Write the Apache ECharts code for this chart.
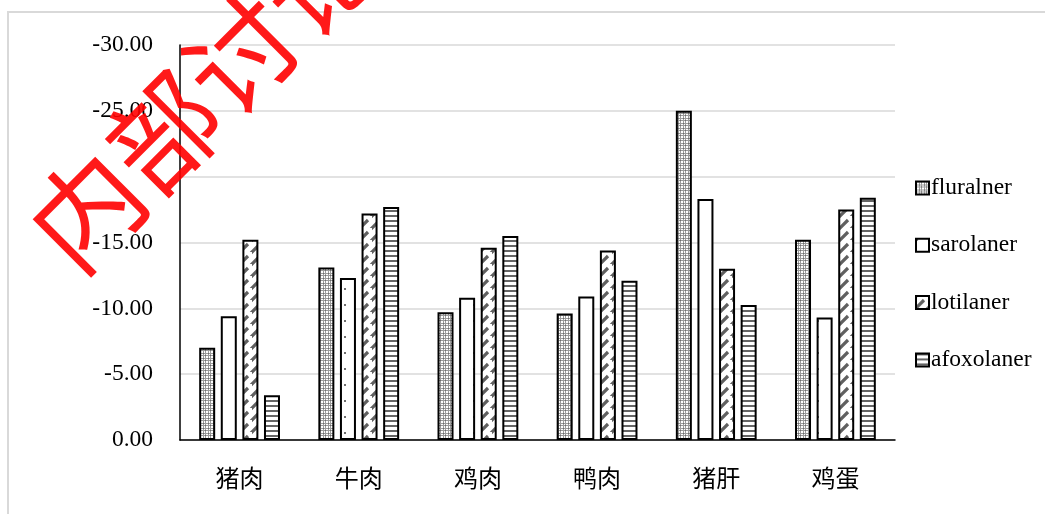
<!DOCTYPE html>
<html>
<head>
<meta charset="utf-8">
<script src="https://cdn.jsdelivr.net/npm/echarts@6/dist/echarts.min.js"></script>
<style>
  html, body { margin: 0; padding: 0; background: #fff; }
  #chart { width: 1045px; height: 514px; }
</style>
</head>
<body>
<div id="chart"></div>
<script>
// Foods tested and the four isoxazolines
const categories = ['猪肉', '牛肉', '鸡肉', '鸭肉', '猪肝', '鸡蛋'];
const seriesNames = ['fluralner', 'sarolaner', 'lotilaner', 'afoxolaner'];

const fluralner  = [-7.0, -13.1, -9.7, -9.6, -25.0, -15.2];
const sarolaner  = [-9.4, -12.3, -10.8, -10.9, -18.3, -9.3];
const lotilaner  = [-15.2, -17.2, -14.6, -14.4, -13.0, -17.5];
const afoxolaner = [-3.4, -17.7, -15.5, -12.1, -10.25, -18.4];

const yMin = -30, yMax = 0, yStep = 5;

// Monochrome fill patterns, one per series
function tile(w, h, draw) {
  const c = document.createElement('canvas');
  c.width = w; c.height = h;
  const g = c.getContext('2d');
  g.fillStyle = '#fff';
  g.fillRect(0, 0, w, h);
  draw(g);
  return { image: c, repeat: 'repeat' };
}

const patterns = [
  // small gray plaid
  tile(5, 5, g => {
    g.fillStyle = '#9c9c9c';
    g.fillRect(0, 0, 5, 1);
    g.fillRect(0, 3, 5, 1);
    g.fillRect(0, 0, 1, 5);
    g.fillRect(3, 0, 1, 5);
    g.fillStyle = '#6e6e6e';
    g.fillRect(0, 0, 1, 1);
    g.fillRect(3, 3, 1, 1);
  }),
  // sparse dots
  tile(43, 16, g => {
    g.fillStyle = '#6e6e6e';
    g.fillRect(0, 0, 2, 2);
  }),
  // dashed upward diagonal
  tile(12, 12, g => {
    g.strokeStyle = '#606060';
    g.lineWidth = 3.2;
    g.beginPath();
    g.moveTo(0, 12); g.lineTo(8, 4);
    g.moveTo(6, 18); g.lineTo(14, 10);
    g.moveTo(-6, 6); g.lineTo(2, -2);
    g.stroke();
  }),
  // narrow horizontal stripes
  tile(5, 5, g => {
    g.fillStyle = '#656565';
    g.fillRect(0, 0, 5, 2);
  })
];

const values = [fluralner, sarolaner, lotilaner, afoxolaner];

const serif = '"Liberation Serif", "Times New Roman", serif';

const chart = echarts.init(document.getElementById('chart'), null, { renderer: 'canvas' });

chart.setOption({
  animation: false,
  backgroundColor: '#fff',
  grid: { left: 180, right: 150, top: 45, bottom: 74, containLabel: false },
  legend: {
    orient: 'vertical',
    left: 910,
    top: 171,
    itemWidth: 13,
    itemHeight: 13,
    itemGap: 33.3,
    icon: 'rect',
    textStyle: { fontFamily: serif, fontSize: 23.5, color: '#000', padding: [0, 0, 0, -3] },
    data: seriesNames
  },
  xAxis: {
    type: 'category',
    data: categories,
    axisLine: { show: true, lineStyle: { color: '#000', width: 1.5 } },
    axisTick: { show: false },
    axisLabel: {
      margin: 26,
      fontFamily: '"Noto Sans CJK SC", sans-serif',
      fontSize: 24,
      color: '#000'
    },
    splitLine: { show: false }
  },
  yAxis: {
    type: 'value',
    inverse: true,
    min: yMin,
    max: yMax,
    interval: yStep,
    axisLine: { show: true, lineStyle: { color: '#000', width: 1.5 } },
    axisTick: { show: false },
    axisLabel: {
      margin: 27,
      fontFamily: serif,
      fontSize: 23.5,
      color: '#000',
      // the -20 label sits under the red stamp and is left blank
      formatter: v => (v === -20 ? '' : v.toFixed(2))
    },
    splitLine: { show: true, lineStyle: { color: '#d9d9d9', width: 1.5 } }
  },
  series: seriesNames.map((name, i) => ({
    name,
    type: 'bar',
    data: values[i],
    barWidth: 16,
    barGap: '35%',
    itemStyle: {
      color: patterns[i],
      borderColor: '#000',
      borderWidth: 2
    }
  })),
  graphic: [
    {
      type: 'rect',
      silent: true,
      shape: { x: 8, y: 12, width: 1100, height: 600 },
      style: { fill: 'none', stroke: '#d9d9d9', lineWidth: 2 },
      z: -1
    },
    {
      type: 'text',
      silent: true,
      x: 203,
      y: 94,
      rotation: Math.PI / 4,
      style: {
        text: '内部讨论',
        fontFamily: '"Noto Sans CJK SC", sans-serif',
        fontSize: 110,
        fill: 'rgba(255, 0, 0, 0.9)',
        align: 'center',
        verticalAlign: 'middle'
      },
      z: 100
    }
  ]
});
</script>
</body>
</html>
